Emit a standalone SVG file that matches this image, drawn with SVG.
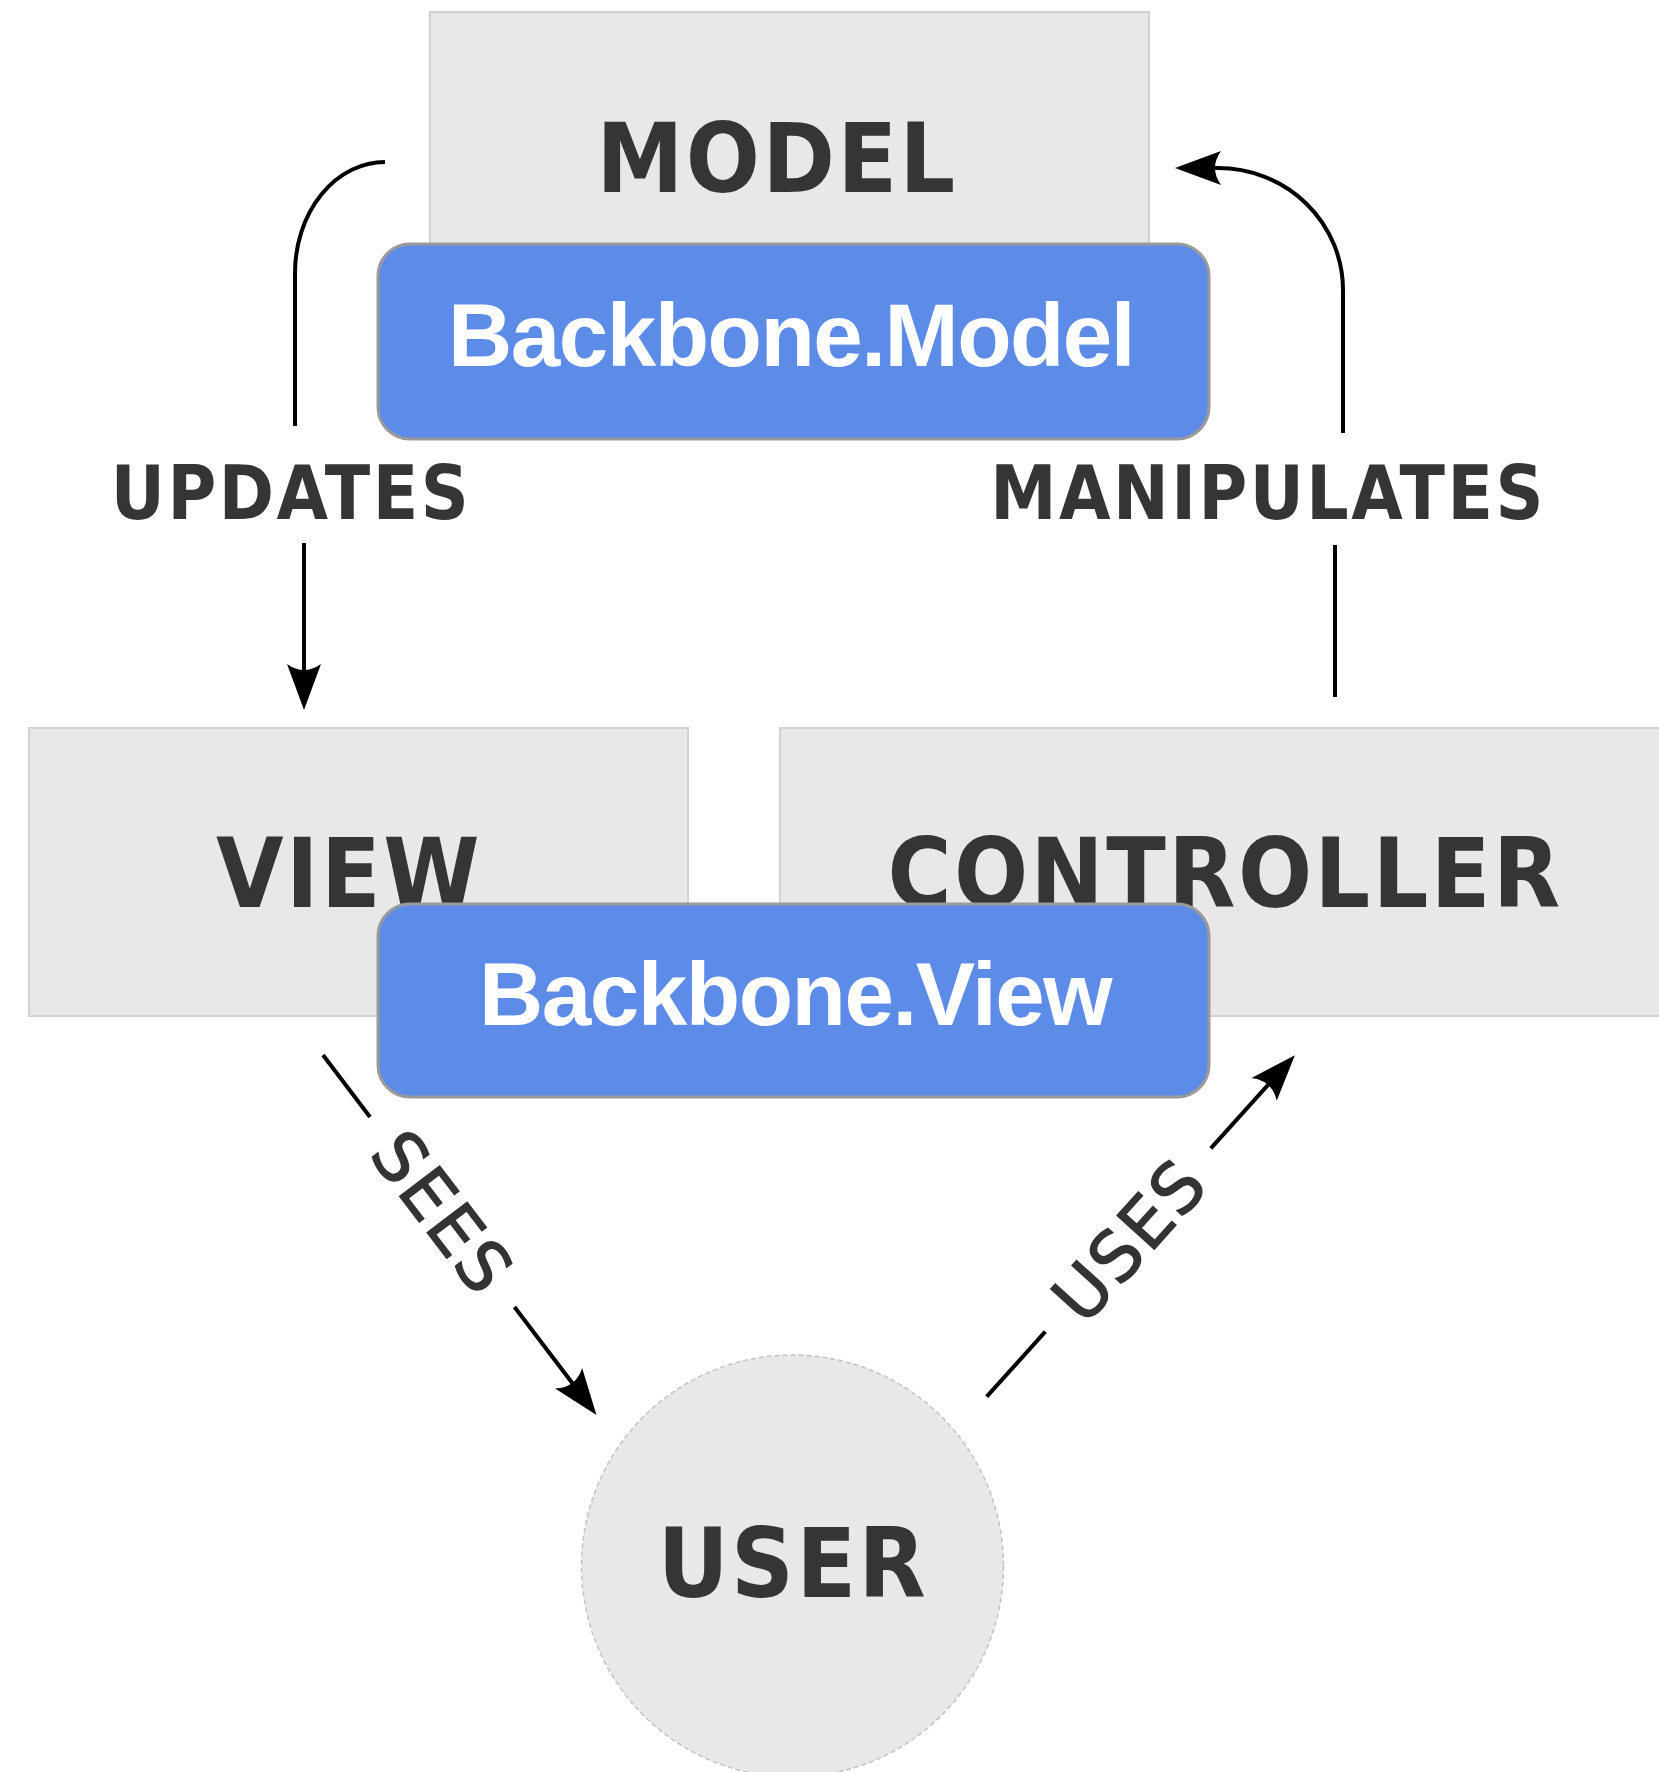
<svg xmlns="http://www.w3.org/2000/svg" width="1659" height="1772" viewBox="0 0 1659 1772">
  <style>
    .box { fill: #e8e8e8; stroke: #d2d2d2; stroke-width: 2; }
    .user { fill: #e8e8e8; stroke: #c4c4c4; stroke-width: 1.5; stroke-dasharray: 5 3; }
    .bb { fill: #5c8be8; stroke: #9a9a9a; stroke-width: 3; }
    .title { font-family: 'DejaVu Sans Condensed', 'DejaVu Sans', sans-serif; font-stretch: condensed; font-weight: bold; fill: #353535; text-anchor: middle; letter-spacing: 2.5px; }
    .node { font-size: 97px; }
    .lbl { font-size: 74px; }
    .edge { font-family: 'DejaVu Sans', sans-serif; font-size: 69px; fill: #333; stroke: #333; stroke-width: 1.3; text-anchor: middle; letter-spacing: 2px; }
    .bbtxt { font-family: 'Liberation Sans', Arial, sans-serif; font-weight: bold; font-size: 89px; letter-spacing: -1.5px; fill: #ffffff; text-anchor: middle; }
    .conn { fill: none; stroke: #000; stroke-width: 4; }
  </style>
  <defs>
    <marker id="arrow" markerUnits="userSpaceOnUse" viewBox="-50 -22 54 44" markerWidth="54" markerHeight="44" refX="-30" refY="0" orient="auto">
      <path d="M0,0 L-46,-17 Q-34,0 -46,17 Z" fill="#000"/>
    </marker>
  </defs>

  <rect width="1659" height="1772" fill="#ffffff"/>

  <!-- MODEL -->
  <g id="model">
    <rect class="box" x="430" y="12" width="719" height="240"/>
    <text class="title node" x="777" y="192">MODEL</text>
  </g>

  <!-- VIEW -->
  <g id="view">
    <rect class="box" x="29" y="728" width="659" height="288"/>
    <text class="title node" x="349" y="907">VIEW</text>
  </g>

  <!-- CONTROLLER -->
  <g id="controller">
    <rect class="box" x="780" y="728" width="890" height="288"/>
    <text class="title node" x="1225" y="907">CONTROLLER</text>
  </g>

  <!-- USER -->
  <g id="user">
    <circle class="user" cx="792.5" cy="1566" r="211"/>
    <text class="title node" x="793" y="1597">USER</text>
  </g>

  <!-- Backbone.Model badge -->
  <g id="backbone-model">
    <rect class="bb" x="378" y="244" width="831" height="195" rx="32" ry="32"/>
    <text class="bbtxt" x="791" y="366">Backbone.Model</text>
  </g>

  <!-- Backbone.View badge -->
  <g id="backbone-view">
    <rect class="bb" x="378" y="904" width="831" height="193" rx="32" ry="32"/>
    <text class="bbtxt" x="795" y="1025">Backbone.View</text>
  </g>

  <!-- connectors -->
  <g id="connectors">
    <!-- model updates view -->
    <path class="conn" d="M385,162 A90,111 0 0 0 295,273 L295,426"/>
    <path class="conn" d="M304,543 L304,680" marker-end="url(#arrow)"/>
    <text class="title lbl" x="291" y="519">UPDATES</text>

    <!-- controller manipulates model -->
    <path class="conn" d="M1335,697 L1335,545"/>
    <path class="conn" d="M1343,433 L1343,290 A125,122 0 0 0 1218,168 L1205,168" marker-end="url(#arrow)"/>
    <text class="title lbl" x="1268" y="519">MANIPULATES</text>

    <!-- view seen by user -->
    <path class="conn" d="M323,1055 L370,1117"/>
    <path class="conn" d="M514.5,1307 L578.3,1391" marker-end="url(#arrow)"/>
    <text class="edge" transform="translate(443,1212) rotate(52.7)" y="25">SEES</text>

    <!-- user uses controller -->
    <path class="conn" d="M986.7,1396.7 L1045.3,1331.7"/>
    <path class="conn" d="M1210.8,1148.3 L1274.8,1077.4" marker-end="url(#arrow)"/>
    <text class="edge" transform="translate(1129,1240) rotate(-47.9)" y="25">USES</text>
  </g>
</svg>
